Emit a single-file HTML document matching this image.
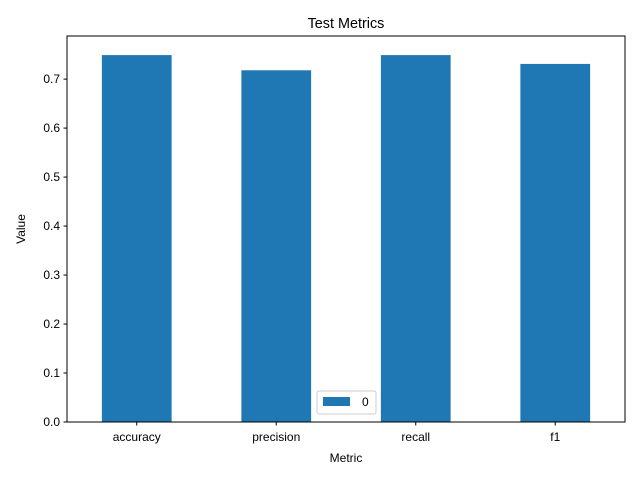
<!DOCTYPE html>
<html><head><meta charset="utf-8"><style>body{margin:0;background:#fff}svg{display:block;font-family:"Liberation Sans","DejaVu Sans",sans-serif}</style></head>
<body>
<svg id="chart" width="640" height="480" viewBox="0 0 640 480"></svg>
<script>
const categories=["accuracy","precision","recall","f1"];
const values=[0.749,0.718,0.749,0.731];
const yTicks=[0,0.1,0.2,0.3,0.4,0.5,0.6,0.7];
const NS="http://www.w3.org/2000/svg";
const svg=document.getElementById('chart');
const L=67,R=625,T=36,B=422,yMax=0.788;
const y=v=>B-(v/yMax)*(B-T);
const step=(R-L)/categories.length;
const x=i=>L+step*(i+0.5);
function mk(tag,attrs,parent){const e=document.createElementNS(NS,tag);for(const k in attrs)e.setAttribute(k,attrs[k]);(parent||svg).appendChild(e);return e;}
const t=mk('text',{x:346,y:28,'text-anchor':'middle','font-size':14.4,fill:'#000'});t.textContent='Test Metrics';


values.forEach((v,i)=>{const bw=step*0.5;const r=mk('rect',{x:x(i)-bw/2,y:y(v),width:bw,height:B-y(v),fill:'#1f77b4'});

});
const f=mk('rect',{x:L,y:T,width:R-L,height:B-T,fill:'none',stroke:'#000','stroke-width':1});


yTicks.forEach(v=>{mk('line',{x1:L-3.5,x2:L,y1:y(v),y2:y(v),stroke:'#000'});const tx=mk('text',{x:L-7,y:y(v)+4,'text-anchor':'end','font-size':12});tx.textContent=v.toFixed(1);

});
categories.forEach((c,i)=>{mk('line',{x1:x(i),x2:x(i),y1:B,y2:B+3.5,stroke:'#000'});const tx=mk('text',{x:x(i),y:B+19,'text-anchor':'middle','font-size':12});tx.textContent=c;

});
const xt=mk('text',{x:346,y:462,'text-anchor':'middle','font-size':12});xt.textContent='Metric';


const yt=mk('text',{x:25,y:229,'text-anchor':'middle','font-size':12,transform:'rotate(-90 25 229)'});yt.textContent='Value';


const lg=mk('g',{});


mk('rect',{x:317,y:391,width:59,height:23,rx:2,fill:'#fff',stroke:'#ccc'},lg);
mk('rect',{x:323,y:397,width:27,height:9,fill:'#1f77b4'},lg);
const lt=mk('text',{x:362,y:406,'font-size':12},lg);lt.textContent='0';
</script>
</body></html>
